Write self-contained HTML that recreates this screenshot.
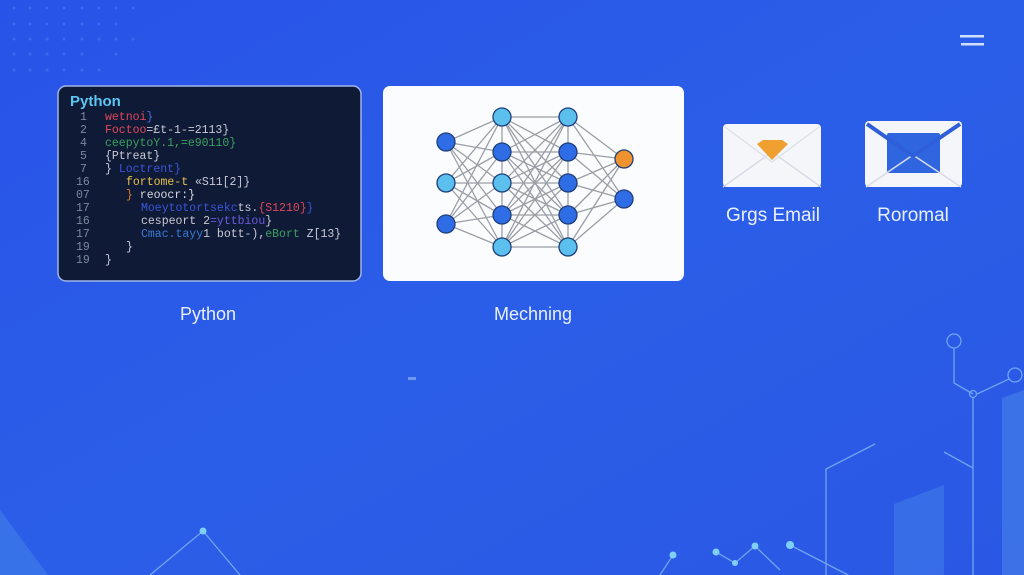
<!DOCTYPE html>
<html><head><meta charset="utf-8"><style>
html,body{margin:0;padding:0;width:1024px;height:575px;overflow:hidden;background:#2a59e6}
svg{display:block}
text{font-family:"Liberation Sans",sans-serif}
.m{font-family:"Liberation Mono",monospace;font-size:11.5px}
</style></head><body>
<svg width="1024" height="575" viewBox="0 0 1024 575" xmlns="http://www.w3.org/2000/svg">
<defs>
<linearGradient id="bg" x1="0" y1="0" x2="1" y2="1">
<stop offset="0" stop-color="#2853e8"/><stop offset="0.5" stop-color="#2b5ee8"/><stop offset="1" stop-color="#2a58e4"/>
</linearGradient>
</defs>
<rect width="1024" height="575" fill="url(#bg)"/>
<!-- dot grid -->
<g fill="#5a86f0" opacity="0.45">
<circle cx="14" cy="8" r="1.5"/><circle cx="30" cy="8" r="1.5"/><circle cx="47" cy="8" r="1.5"/><circle cx="64" cy="8" r="1.5"/><circle cx="82" cy="8" r="1.5"/><circle cx="99" cy="8" r="1.5"/><circle cx="116" cy="8" r="1.5"/><circle cx="133" cy="8" r="1.5"/>
<circle cx="14" cy="24" r="1.5"/><circle cx="30" cy="24" r="1.5"/><circle cx="47" cy="24" r="1.5"/><circle cx="64" cy="24" r="1.5"/><circle cx="82" cy="24" r="1.5"/><circle cx="99" cy="24" r="1.5"/><circle cx="116" cy="24" r="1.5"/>
<circle cx="14" cy="39" r="1.5"/><circle cx="30" cy="39" r="1.5"/><circle cx="47" cy="39" r="1.5"/><circle cx="64" cy="39" r="1.5"/><circle cx="82" cy="39" r="1.5"/><circle cx="99" cy="39" r="1.5"/><circle cx="116" cy="39" r="1.5"/><circle cx="133" cy="39" r="1.5"/>
<circle cx="14" cy="54" r="1.5"/><circle cx="30" cy="54" r="1.5"/><circle cx="47" cy="54" r="1.5"/><circle cx="64" cy="54" r="1.5"/><circle cx="82" cy="54" r="1.5"/><circle cx="116" cy="54" r="1.5"/>
<circle cx="14" cy="70" r="1.5"/><circle cx="30" cy="70" r="1.5"/><circle cx="47" cy="70" r="1.5"/><circle cx="64" cy="70" r="1.5"/><circle cx="82" cy="70" r="1.5"/><circle cx="99" cy="70" r="1.5"/>
</g>
<!-- hamburger -->
<rect x="960" y="35" width="24" height="2.5" fill="#cfe0ff"/>
<rect x="961" y="43" width="23" height="2.5" fill="#cfe0ff"/>

<!-- code card -->
<rect x="58" y="86" width="303" height="195" rx="8" fill="#0f1a36" stroke="#9fb6e8" stroke-width="1.5"/>
<text x="70" y="106" font-size="15" font-weight="bold" fill="#5cc6f2">Python</text>
<g class="m" fill="#7d879c">
<text class="m" x="80" y="120">1</text><text class="m" x="80" y="133">2</text><text class="m" x="80" y="146">4</text><text class="m" x="80" y="159">5</text><text class="m" x="80" y="172">7</text><text class="m" x="76" y="185">16</text><text class="m" x="76" y="198">07</text><text class="m" x="76" y="211">17</text><text class="m" x="76" y="224">16</text><text class="m" x="76" y="237">17</text><text class="m" x="76" y="250">19</text><text class="m" x="76" y="263">19</text>
</g>
<text class="m" x="105" y="120" fill="#e0475a">wetnoi<tspan fill="#4a6ae0">}</tspan></text>
<text class="m" x="105" y="133" fill="#e0475a">Foctoo<tspan fill="#c9c9d6">=£t-1-=2113}</tspan></text>
<text class="m" x="105" y="146" fill="#3aa15e">ceepytoY.1,=e90110}</text>
<text class="m" x="105" y="159" fill="#c9c9d6">{Ptreat}</text>
<text class="m" x="105" y="172" fill="#c9c9d6">}  <tspan fill="#3b55d8">Loctrent}</tspan></text>
<text class="m" x="126" y="185" fill="#e6c24a">fortome-t<tspan fill="#c9c9d6"> «S11[2]}</tspan></text>
<text class="m" x="126" y="198" fill="#e07a2a">}<tspan fill="#d9d9e0"> reoocr:}</tspan></text>
<text class="m" x="141" y="211" fill="#3b55d8">Moeytotortsekc<tspan fill="#c9c9d6">ts.</tspan><tspan fill="#e0475a">{S1210}</tspan>}</text>
<text class="m" x="141" y="224" fill="#c9c9d6">cespeort 2<tspan fill="#6a5ae0">=yttbiou</tspan>}</text>
<text class="m" x="141" y="237" fill="#3b7ad8">Cmac.tayy<tspan fill="#c9c9d6">1 bott-),</tspan><tspan fill="#3aa15e">eBort</tspan><tspan fill="#c9c9d6"> Z[13}</tspan></text>
<text class="m" x="126" y="250" fill="#c9c9d6">}</text>
<text class="m" x="105" y="263" fill="#c9c9d6">}</text>

<!-- ML card -->
<rect x="383" y="86" width="301" height="195" rx="7" fill="#fbfcfe"/>
<g stroke="#7a7f88" stroke-width="1.3" opacity="0.75">
<line x1="446" y1="142" x2="502" y2="117"/><line x1="446" y1="142" x2="502" y2="152"/><line x1="446" y1="142" x2="502" y2="183"/><line x1="446" y1="142" x2="502" y2="215"/><line x1="446" y1="142" x2="502" y2="247"/>
<line x1="446" y1="183" x2="502" y2="117"/><line x1="446" y1="183" x2="502" y2="152"/><line x1="446" y1="183" x2="502" y2="183"/><line x1="446" y1="183" x2="502" y2="215"/><line x1="446" y1="183" x2="502" y2="247"/>
<line x1="446" y1="224" x2="502" y2="117"/><line x1="446" y1="224" x2="502" y2="152"/><line x1="446" y1="224" x2="502" y2="183"/><line x1="446" y1="224" x2="502" y2="215"/><line x1="446" y1="224" x2="502" y2="247"/>
<line x1="502" y1="117" x2="502" y2="247"/><line x1="568" y1="117" x2="568" y2="247"/>
<line x1="502" y1="117" x2="568" y2="117"/><line x1="502" y1="117" x2="568" y2="152"/><line x1="502" y1="117" x2="568" y2="183"/><line x1="502" y1="117" x2="568" y2="215"/><line x1="502" y1="117" x2="568" y2="247"/>
<line x1="502" y1="152" x2="568" y2="117"/><line x1="502" y1="152" x2="568" y2="152"/><line x1="502" y1="152" x2="568" y2="183"/><line x1="502" y1="152" x2="568" y2="215"/><line x1="502" y1="152" x2="568" y2="247"/>
<line x1="502" y1="183" x2="568" y2="117"/><line x1="502" y1="183" x2="568" y2="152"/><line x1="502" y1="183" x2="568" y2="183"/><line x1="502" y1="183" x2="568" y2="215"/><line x1="502" y1="183" x2="568" y2="247"/>
<line x1="502" y1="215" x2="568" y2="117"/><line x1="502" y1="215" x2="568" y2="152"/><line x1="502" y1="215" x2="568" y2="183"/><line x1="502" y1="215" x2="568" y2="215"/><line x1="502" y1="215" x2="568" y2="247"/>
<line x1="502" y1="247" x2="568" y2="117"/><line x1="502" y1="247" x2="568" y2="152"/><line x1="502" y1="247" x2="568" y2="183"/><line x1="502" y1="247" x2="568" y2="215"/><line x1="502" y1="247" x2="568" y2="247"/>
<line x1="568" y1="117" x2="624" y2="159"/><line x1="568" y1="152" x2="624" y2="159"/><line x1="568" y1="183" x2="624" y2="159"/><line x1="568" y1="215" x2="624" y2="159"/><line x1="568" y1="247" x2="624" y2="159"/>
<line x1="568" y1="117" x2="624" y2="199"/><line x1="568" y1="152" x2="624" y2="199"/><line x1="568" y1="183" x2="624" y2="199"/><line x1="568" y1="215" x2="624" y2="199"/><line x1="568" y1="247" x2="624" y2="199"/>
</g>
<g stroke="#1f3f7a" stroke-width="1.3">
<circle cx="446" cy="142" r="9" fill="#2f6de6"/><circle cx="446" cy="183" r="9" fill="#5bc0ee"/><circle cx="446" cy="224" r="9" fill="#2f6de6"/>
<circle cx="502" cy="117" r="9" fill="#5bc0ee"/><circle cx="502" cy="152" r="9" fill="#2f6de6"/><circle cx="502" cy="183" r="9" fill="#5bc0ee"/><circle cx="502" cy="215" r="9" fill="#2f6de6"/><circle cx="502" cy="247" r="9" fill="#5bc0ee"/>
<circle cx="568" cy="117" r="9" fill="#5bc0ee"/><circle cx="568" cy="152" r="9" fill="#2f6de6"/><circle cx="568" cy="183" r="9" fill="#2f6de6"/><circle cx="568" cy="215" r="9" fill="#2f6de6"/><circle cx="568" cy="247" r="9" fill="#5bc0ee"/>
<circle cx="624" cy="159" r="9" fill="#f0922e"/><circle cx="624" cy="199" r="9" fill="#2f6de6"/>
</g>

<text x="208" y="320" font-size="18" fill="#e8efff" text-anchor="middle">Python</text>
<text x="533" y="320" font-size="18" fill="#e8efff" text-anchor="middle">Mechning</text>

<!-- envelope 1 -->
<rect x="723" y="124" width="98" height="63" rx="4" fill="#f4f6fa"/>
<path d="M723 187 L772 152 L821 187" fill="none" stroke="#d6dbe5" stroke-width="1.5"/>
<path d="M725 127 L772 162 L819 127" fill="none" stroke="#dfe3ea" stroke-width="1.5"/>
<path d="M757 144 L763 140 L782 140 L788 144 L772 160 Z" fill="#f0a030"/>
<!-- envelope 2 -->
<rect x="865" y="121" width="97" height="66" rx="4" fill="#f4f6fa"/>
<rect x="887" y="133" width="53" height="40" rx="2" fill="#2f66e0"/>
<path d="M866 187 L913 155 L961 187" fill="none" stroke="#d6dbe5" stroke-width="1.5"/>
<path d="M867 124 L913 156 L960 124" fill="none" stroke="#2f5fd8" stroke-width="4"/>
<text x="773" y="221" font-size="19" fill="#e8efff" text-anchor="middle">Grgs Email</text>
<text x="913" y="221" font-size="19" fill="#e8efff" text-anchor="middle">Roromal</text>

<!-- bottom decorations -->
<path d="M0 510 L48 575 L0 575 Z" fill="#3e7ae8" opacity="0.7"/>
<polygon points="1002,398 1024,390 1024,575 1002,575" fill="#4a86ea" opacity="0.55"/>
<polygon points="894,504 944,485 944,575 894,575" fill="#4a86ea" opacity="0.45"/>
<g stroke="#7fb0f5" stroke-width="1.3" fill="none" opacity="0.85">
<circle cx="954" cy="341" r="7"/><polyline points="954,348 954,383 973,394"/>
<circle cx="1015" cy="375" r="7"/><line x1="1009" y1="379" x2="977" y2="394"/>
<circle cx="973" cy="394" r="3.5"/><line x1="973" y1="398" x2="973" y2="575"/>
<polyline points="875,444 826,469 826,575"/><line x1="944" y1="452" x2="973" y2="468"/>
<polyline points="150,575 203,531 240,575"/>
<polyline points="660,575 673,555"/><polyline points="716,552 735,563 755,546 780,570"/>
<line x1="790" y1="545" x2="848" y2="575"/>
</g>
<g fill="#7fd0f8">
<circle cx="203" cy="531" r="3.5"/><circle cx="673" cy="555" r="3.5"/><circle cx="716" cy="552" r="3.5"/><circle cx="735" cy="563" r="3"/><circle cx="755" cy="546" r="3.5"/><circle cx="790" cy="545" r="4"/>
</g>
<rect x="408" y="377" width="8" height="3" fill="#8fb0f0" opacity="0.7"/>
</svg>
</body></html>
